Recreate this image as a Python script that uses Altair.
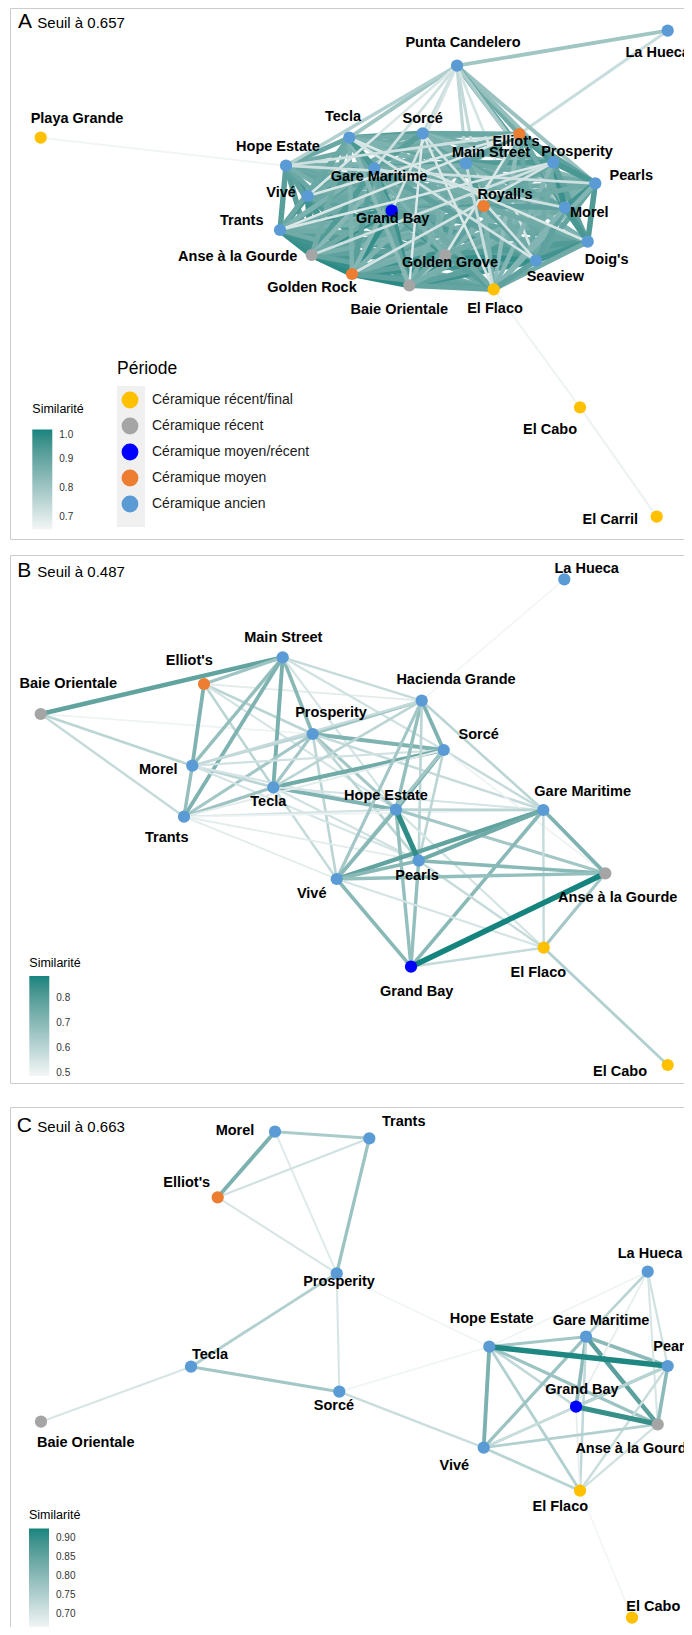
import altair as alt
import pandas as pd

FONT = "Liberation Sans"

# ---------------- legend categories ----------------
periods = ["Céramique récent/final", "Céramique récent", "Céramique moyen/récent",
           "Céramique moyen", "Céramique ancien"]
period_colors = ["#FFC000", "#A5A5A5", "#0000FF", "#ED7D31", "#5B9BD5"]

names = {
    "PC": "Punta Candelero", "LH": "La Hueca", "PG": "Playa Grande", "TE": "Tecla",
    "SO": "Sorcé", "EL": "Elliot's", "HE": "Hope Estate", "MS": "Main Street",
    "PR": "Prosperity", "GM": "Gare Maritime", "PE": "Pearls", "VI": "Vivé",
    "RO": "Royall's", "GB": "Grand Bay", "MO": "Morel", "TR": "Trants",
    "AG": "Anse à la Gourde", "GG": "Golden Grove", "DO": "Doig's", "GR": "Golden Rock",
    "SE": "Seaview", "BO": "Baie Orientale", "EF": "El Flaco", "EC": "El Cabo",
    "ER": "El Carril", "HG": "Hacienda Grande",
}
site_period = {
    "PG": 0, "EF": 0, "EC": 0, "ER": 0,
    "AG": 1, "BO": 1, "GG": 1,
    "GB": 2,
    "GR": 3, "RO": 3, "EL": 3,
}

# ---------------- panel A (seuil 0.657) ----------------
# site: (x, y, label x, label y)
layout_a = {
    "PC": (457, 65.7, 463, 43.3), "LH": (667.7, 30.7, 657.7, 53.3),
    "PG": (40.7, 137.7, 77, 119), "TE": (349.3, 137.7, 343, 117),
    "SO": (422.7, 133.3, 422.7, 119.3), "EL": (519.3, 134, 516, 141.7),
    "HE": (286, 165.7, 278, 146.7), "MS": (466, 163.3, 491, 153.3),
    "PR": (553.3, 162.3, 577, 151.7), "GM": (374.3, 168.3, 379, 176.7),
    "PE": (595.3, 183.3, 631.3, 176), "VI": (307.7, 196, 281, 193),
    "RO": (483.7, 206, 505, 195), "GB": (391.7, 210.7, 392.7, 219.3),
    "MO": (565, 207.7, 589.3, 213.3), "TR": (280, 230, 241.7, 220.7),
    "AG": (311.7, 255, 237.7, 256.7), "GG": (445.3, 255, 450, 263.3),
    "DO": (587.7, 241.7, 606.7, 260), "GR": (352, 274, 312, 288),
    "SE": (536, 260.7, 555.3, 277.3), "BO": (409.3, 285.3, 399.3, 310),
    "EF": (493.7, 289.3, 495, 309.3), "EC": (580, 407.3, 550, 430),
    "ER": (656.7, 516.7, 610.3, 520),
}
edges_a = [
    ("PG", "HE", 0.66), ("PC", "LH", 0.80), ("LH", "EL", 0.73),
    ("HE", "VI", 0.95), ("HE", "GM", 0.93), ("HE", "GB", 0.94), ("HE", "TR", 0.92),
    ("HE", "AG", 0.92), ("HE", "GR", 0.91), ("HE", "BO", 0.89), ("HE", "GG", 0.90),
    ("HE", "SE", 0.90), ("HE", "TE", 0.89), ("HE", "SO", 0.88), ("HE", "MS", 0.87),
    ("HE", "PR", 0.86), ("HE", "RO", 0.90), ("HE", "MO", 0.87), ("HE", "DO", 0.89),
    ("HE", "EF", 0.87),
    ("VI", "TR", 0.95), ("VI", "AG", 0.96), ("VI", "GB", 0.96), ("VI", "GR", 0.95),
    ("VI", "GM", 0.94), ("VI", "BO", 0.93), ("VI", "GG", 0.93), ("VI", "SE", 0.91),
    ("VI", "TE", 0.90), ("VI", "SO", 0.88), ("VI", "MS", 0.90), ("VI", "PR", 0.87),
    ("VI", "PE", 0.88), ("VI", "RO", 0.90), ("VI", "MO", 0.89), ("VI", "DO", 0.89),
    ("VI", "EF", 0.89),
    ("TR", "AG", 0.97), ("TR", "GB", 0.96), ("TR", "GR", 0.96), ("TR", "BO", 0.95),
    ("TR", "GG", 0.93), ("TR", "GM", 0.92), ("TR", "SE", 0.92), ("TR", "TE", 0.89),
    ("TR", "SO", 0.86), ("TR", "MS", 0.88), ("TR", "PE", 0.85), ("TR", "RO", 0.88),
    ("TR", "MO", 0.87), ("TR", "DO", 0.88), ("TR", "EF", 0.88),
    ("AG", "GR", 0.98), ("AG", "GB", 0.97), ("AG", "BO", 0.97), ("AG", "GG", 0.95),
    ("AG", "GM", 0.93), ("AG", "SE", 0.94), ("AG", "DO", 0.91), ("AG", "TE", 0.88),
    ("AG", "SO", 0.84), ("AG", "MS", 0.88), ("AG", "PE", 0.86), ("AG", "RO", 0.90),
    ("AG", "MO", 0.87), ("AG", "EF", 0.90),
    ("GR", "BO", 0.98), ("GR", "GB", 0.97), ("GR", "GG", 0.96), ("GR", "SE", 0.96),
    ("GR", "GM", 0.92), ("GR", "DO", 0.91), ("GR", "TE", 0.86), ("GR", "SO", 0.84),
    ("GR", "MS", 0.86), ("GR", "PE", 0.86), ("GR", "RO", 0.88), ("GR", "MO", 0.87),
    ("GR", "EF", 0.91),
    ("GB", "BO", 0.96), ("GB", "GM", 0.95), ("GB", "GG", 0.95), ("GB", "SE", 0.93),
    ("GB", "TE", 0.89), ("GB", "SO", 0.87), ("GB", "EL", 0.83), ("GB", "MS", 0.89),
    ("GB", "PR", 0.87), ("GB", "PE", 0.89), ("GB", "RO", 0.92), ("GB", "MO", 0.87),
    ("GB", "DO", 0.90), ("GB", "EF", 0.90),
    ("BO", "GG", 0.97), ("BO", "SE", 0.96), ("BO", "DO", 0.91), ("BO", "GM", 0.90),
    ("BO", "EF", 0.90), ("BO", "TE", 0.84), ("BO", "MS", 0.86), ("BO", "PR", 0.81),
    ("BO", "PE", 0.85), ("BO", "RO", 0.88), ("BO", "MO", 0.87),
    ("GG", "SE", 0.97), ("GG", "DO", 0.93), ("GG", "EF", 0.92), ("GG", "GM", 0.90),
    ("GG", "TE", 0.86), ("GG", "SO", 0.87), ("GG", "MS", 0.87), ("GG", "PR", 0.86),
    ("GG", "PE", 0.86), ("GG", "RO", 0.91), ("GG", "MO", 0.88),
    ("TE", "SO", 0.92), ("TE", "EL", 0.88), ("TE", "MS", 0.90), ("TE", "PR", 0.88),
    ("TE", "GM", 0.94), ("TE", "PE", 0.86), ("TE", "RO", 0.87), ("TE", "MO", 0.86),
    ("GM", "SO", 0.92), ("GM", "EL", 0.88), ("GM", "MS", 0.93), ("GM", "PR", 0.86),
    ("GM", "PE", 0.88), ("GM", "RO", 0.92), ("GM", "DO", 0.88), ("GM", "SE", 0.91),
    ("GM", "EF", 0.88),
    ("PC", "TE", 0.80), ("PC", "HE", 0.77), ("PC", "SO", 0.73), ("PC", "EL", 0.88),
    ("PC", "MS", 0.75), ("PC", "PR", 0.82), ("PC", "PE", 0.81), ("PC", "MO", 0.90),
    ("PC", "DO", 0.78), ("PC", "GM", 0.72), ("PC", "GB", 0.71), ("PC", "RO", 0.74),
    ("PC", "SE", 0.71), ("PC", "VI", 0.70),
    ("SO", "EL", 0.89), ("SO", "MS", 0.92), ("SO", "PR", 0.88), ("SO", "PE", 0.84),
    ("SO", "RO", 0.89), ("SO", "MO", 0.86), ("SO", "DO", 0.86),
    ("MS", "EL", 0.91), ("MS", "PR", 0.93), ("MS", "PE", 0.88), ("MS", "RO", 0.93),
    ("MS", "MO", 0.90), ("MS", "DO", 0.86), ("MS", "SE", 0.88),
    ("EL", "PR", 0.94), ("EL", "PE", 0.91), ("EL", "RO", 0.88), ("EL", "MO", 0.95),
    ("EL", "DO", 0.88), ("EL", "SE", 0.89), ("EL", "EF", 0.83),
    ("PR", "PE", 0.94), ("PR", "RO", 0.90), ("PR", "MO", 0.96), ("PR", "DO", 0.91),
    ("PR", "SE", 0.88), ("PR", "EF", 0.85),
    ("PE", "RO", 0.88), ("PE", "MO", 0.95), ("PE", "DO", 0.93), ("PE", "SE", 0.90),
    ("PE", "EF", 0.85),
    ("RO", "MO", 0.91), ("RO", "DO", 0.88), ("RO", "SE", 0.91), ("RO", "EF", 0.86),
    ("MO", "DO", 0.94), ("MO", "SE", 0.91), ("MO", "EF", 0.85),
    ("DO", "SE", 0.95), ("DO", "EF", 0.88), ("SE", "EF", 0.91),
    # weaker links crossing the core (pale streaks)
    ("TE", "DO", 0.70), ("SO", "SE", 0.71), ("HE", "PE", 0.72), ("VI", "EL", 0.70),
    ("GM", "MO", 0.72), ("TR", "PR", 0.70), ("BO", "SO", 0.69), ("GG", "EL", 0.70),
    ("GR", "PR", 0.71), ("AG", "PR", 0.72), ("TE", "SE", 0.71), ("SO", "EF", 0.70),
    ("HE", "EL", 0.72), ("MS", "EF", 0.73), ("TR", "EL", 0.70),
    ("EF", "EC", 0.665), ("EC", "ER", 0.668),
]

# ---------------- panel B (seuil 0.487) ----------------
layout_b = {
    "LH": (564.3, 579.3, 586.7, 569), "BO": (40.7, 714, 68.3, 684.3),
    "EL": (204, 684, 189.3, 661), "MS": (282.7, 657.3, 283.3, 638.3),
    "HG": (421.7, 700.7, 456, 680), "PR": (312.7, 734, 331, 713.3),
    "SO": (443.7, 750, 478.7, 735), "MO": (192.3, 765.7, 158.3, 770),
    "TE": (273.3, 787.3, 268.3, 801.7), "HE": (396, 809.6, 386, 795.5),
    "GM": (543.3, 810, 582.7, 792.3), "TR": (184, 816.7, 166.7, 838.3),
    "PE": (418.7, 860.7, 417, 875.7), "VI": (336.7, 879, 311.7, 894),
    "AG": (605.3, 873.3, 617.7, 897.7), "GB": (411, 966.7, 416.7, 991.7),
    "EF": (543.7, 947.7, 538.3, 973.3), "EC": (667.7, 1065, 620, 1071.7),
}
edges_b = [
    ("HG", "LH", 0.49), ("BO", "PR", 0.50), ("BO", "MO", 0.60), ("BO", "TR", 0.58),
    ("BO", "MS", 0.78),
    ("EL", "MS", 0.66), ("EL", "MO", 0.72), ("EL", "PR", 0.60), ("EL", "TE", 0.60),
    ("EL", "HG", 0.52), ("EL", "HE", 0.55),
    ("MS", "MO", 0.68), ("MS", "TE", 0.73), ("MS", "TR", 0.72), ("MS", "PR", 0.70),
    ("MS", "HG", 0.58), ("MS", "SO", 0.56), ("MS", "HE", 0.55),
    ("PR", "MO", 0.60), ("PR", "TE", 0.65), ("PR", "TR", 0.65), ("PR", "HG", 0.66),
    ("PR", "SO", 0.72), ("PR", "HE", 0.65), ("PR", "VI", 0.60), ("PR", "GM", 0.58),
    ("PR", "PE", 0.60),
    ("MO", "TE", 0.60), ("MO", "TR", 0.68), ("MO", "HG", 0.58), ("MO", "SO", 0.56),
    ("MO", "HE", 0.55), ("MO", "PE", 0.55),
    ("TE", "TR", 0.66), ("TE", "HE", 0.72), ("TE", "SO", 0.75), ("TE", "VI", 0.58),
    ("TE", "PE", 0.56), ("TE", "GM", 0.55), ("TE", "HG", 0.60),
    ("TR", "HE", 0.55), ("TR", "VI", 0.52), ("TR", "PE", 0.52), ("TR", "GM", 0.50),
    ("TR", "SO", 0.52),
    ("HG", "SO", 0.72), ("HG", "HE", 0.68), ("HG", "VI", 0.65), ("HG", "PE", 0.60),
    ("HG", "GM", 0.60),
    ("SO", "HE", 0.75), ("SO", "VI", 0.65), ("SO", "PE", 0.60), ("SO", "GM", 0.58),
    ("SO", "AG", 0.50),
    ("HE", "VI", 0.70), ("HE", "GM", 0.60), ("HE", "GB", 0.68), ("HE", "AG", 0.65),
    ("HE", "EF", 0.55),
    ("GM", "VI", 0.78), ("GM", "PE", 0.75), ("GM", "AG", 0.72), ("GM", "GB", 0.70),
    ("GM", "EF", 0.58),
    ("PE", "VI", 0.70), ("PE", "AG", 0.70), ("PE", "GB", 0.68), ("PE", "EF", 0.58),
    ("VI", "GB", 0.70), ("VI", "AG", 0.68), ("VI", "EF", 0.55),
    ("GB", "EF", 0.58), ("AG", "EF", 0.65), ("EF", "EC", 0.62),
    ("HE", "PE", 0.86), ("GB", "AG", 0.89),
]

# ---------------- panel C (seuil 0.663) ----------------
layout_c = {
    "MO": (275, 1131.7, 235, 1131), "TR": (369.3, 1138.3, 403.7, 1121.7),
    "EL": (217.7, 1197.3, 186.7, 1183.3), "PR": (336.7, 1273.3, 339, 1281.7),
    "LH": (647.7, 1271.7, 650, 1254), "HE": (489.3, 1346.7, 491.7, 1319),
    "GM": (586, 1336.7, 601, 1320.7), "PE": (667.7, 1366, 675, 1346.7),
    "TE": (191, 1366.7, 210, 1355), "SO": (339.3, 1391.7, 334, 1406),
    "BO": (41, 1421.7, 85.7, 1443.3), "GB": (576, 1406.7, 582, 1390),
    "AG": (657.7, 1424.3, 635, 1449.3), "VI": (483.7, 1447.7, 454.3, 1466),
    "EF": (580, 1490.7, 560.3, 1506.7), "EC": (632, 1617.7, 653.3, 1607.3),
}
edges_c = [
    ("MO", "TR", 0.76), ("MO", "EL", 0.82), ("MO", "PR", 0.69), ("EL", "TR", 0.71),
    ("EL", "PR", 0.70), ("TR", "PR", 0.78), ("PR", "TE", 0.75), ("PR", "SO", 0.70),
    ("PR", "HE", 0.665), ("TE", "SO", 0.77), ("TE", "BO", 0.70), ("SO", "VI", 0.72),
    ("SO", "HE", 0.67), ("HE", "GM", 0.77), ("HE", "LH", 0.67), ("HE", "GB", 0.73),
    ("HE", "AG", 0.78), ("HE", "VI", 0.82), ("HE", "EF", 0.75), ("GM", "LH", 0.74),
    ("GM", "PE", 0.80), ("GM", "AG", 0.86), ("GM", "GB", 0.80), ("GM", "VI", 0.78),
    ("GM", "EF", 0.73), ("LH", "PE", 0.71), ("LH", "AG", 0.70), ("LH", "GB", 0.68),
    ("PE", "GB", 0.77), ("PE", "AG", 0.80), ("PE", "VI", 0.74), ("PE", "EF", 0.72),
    ("GB", "VI", 0.72), ("GB", "EF", 0.68), ("AG", "VI", 0.75), ("AG", "EF", 0.71),
    ("VI", "EF", 0.74), ("EF", "EC", 0.665), ("HE", "PE", 0.92), ("GB", "AG", 0.90),
]

sim_low, sim_high = "#F3F6F6", "#15847E"

# ---------------- tables ----------------
def node_table(layout, panel):
    rows = []
    for k, (x, y, lx, ly) in layout.items():
        rows.append(dict(panel=panel, name=names[k], x=x, y=y, lx=lx, ly=ly,
                         period=periods[site_period.get(k, 4)]))
    return rows


def edge_table(layout, edges):
    rows = []
    for a, b, s in edges:
        rows.append(dict(x=layout[a][0], y=layout[a][1], x2=layout[b][0],
                         y2=layout[b][1], sim=s, width=s))
    return pd.DataFrame(rows)


nodes = pd.DataFrame(node_table(layout_a, "A") + node_table(layout_b, "B")
                     + node_table(layout_c, "C"))

XS = alt.Scale(domain=[8, 684], nice=False, zero=False)
YS = alt.Scale(domain=[8, 1627], nice=False, zero=False, reverse=True)


def X(f):
    return alt.X(f, type="quantitative", scale=XS, axis=None)


def Y(f):
    return alt.Y(f, type="quantitative", scale=YS, axis=None)


def edge_layer(df, dom, vals, fmt, lx, ly, tpad, widths):
    # width scale gets its own (slightly wider) domain so its legend is not merged
    wdom = [dom[0] - 0.0005, dom[1] + 0.0005]
    return alt.Chart(df).mark_rule().encode(
        x=X("x"), y=Y("y"), x2=alt.X2("x2"), y2=alt.Y2("y2"),
        stroke=alt.Stroke("sim:Q", scale=alt.Scale(domain=dom, range=[sim_low, sim_high]),
                          legend=alt.Legend(type="gradient", title="Similarité",
                                            orient="none", legendX=lx,
                                            legendY=ly, direction="vertical",
                                            gradientLength=100, gradientThickness=20,
                                            gradientStrokeWidth=0, values=vals, format=fmt,
                                            titlePadding=tpad, titleFontSize=12.5,
                                            titleFontWeight="normal", titleColor="#000000",
                                            titleFont=FONT, labelFont=FONT,
                                            labelFontSize=10, labelColor="#333333",
                                            labelOffset=7, padding=0)),
        strokeWidth=alt.StrokeWidth("width:Q", scale=alt.Scale(domain=wdom, range=widths),
                                    legend=None),
    )


ea = edge_layer(edge_table(layout_a, edges_a), [0.657, 1.0], [0.7, 0.8, 0.9, 1.0], ".1f",
                24.3, 395, 14, [2.0, 6.5])
eb = edge_layer(edge_table(layout_b, edges_b), [0.487, 0.89], [0.5, 0.6, 0.7, 0.8], ".1f",
                21.3, 949, 6.5, [1.5, 5.5])
ec = edge_layer(edge_table(layout_c, edges_c), [0.663, 0.926],
                [0.70, 0.75, 0.80, 0.85, 0.90], ".2f", 21, 1501, 7, [1.5, 5.5])

# panel frames (open on the right, C cut at the bottom)
frames = pd.DataFrame([
    dict(x=10.5, x2=700, y=8.5, y2=8.5), dict(x=10.5, x2=10.5, y=8.5, y2=539.5),
    dict(x=10.5, x2=700, y=539.5, y2=539.5),
    dict(x=10.5, x2=700, y=555.5, y2=555.5), dict(x=10.5, x2=10.5, y=555.5, y2=1083.5),
    dict(x=10.5, x2=700, y=1083.5, y2=1083.5),
    dict(x=10.5, x2=700, y=1107.5, y2=1107.5), dict(x=10.5, x2=10.5, y=1107.5, y2=1640),
])
frame_layer = alt.Chart(frames).mark_rule(color="#CCCCCC", strokeWidth=1).encode(
    x=X("x"), y=Y("y"), x2=alt.X2("x2"), y2=alt.Y2("y2"))

key_bg = alt.Chart(pd.DataFrame({"k": [0]})).mark_rect(color="#F0F0F0").encode(
    x=alt.value(109), x2=alt.value(137), y=alt.value(378), y2=alt.value(519))

node_layer = alt.Chart(nodes).mark_circle(size=150, opacity=1).encode(
    x=X("x"), y=Y("y"),
    color=alt.Color("period:N", scale=alt.Scale(domain=periods, range=period_colors),
                    legend=alt.Legend(title="Période", orient="none", legendX=109,
                                      legendY=352, symbolType="circle", symbolSize=283,
                                      symbolOffset=4.5, labelOffset=13.5, rowPadding=9,
                                      titleFontSize=17.5, titleFontWeight="normal",
                                      titleColor="#000000", titlePadding=14,
                                      titleFont=FONT, labelFont=FONT,
                                      labelFontSize=14, labelColor="#1A1A1A",
                                      symbolStrokeWidth=0, symbolOpacity=1, padding=0)),
)

label_layer = alt.Chart(nodes).mark_text(font=FONT, fontSize=14.5, fontWeight="bold",
                                         color="#000000", baseline="middle",
                                         align="center").encode(
    x=X("lx"), y=Y("ly"), text="name:N")

titles = pd.DataFrame({
    "letter": ["A", "B", "C"],
    "seuil": ["Seuil à 0.657", "Seuil à 0.487", "Seuil à 0.663"],
    "lx": [18, 17.3, 16.7],
    "sx": [37.3, 37.3, 37.3],
    "base": [28.3, 576.7, 1131.7],
})
letter_layer = alt.Chart(titles).mark_text(font=FONT, fontSize=21, align="left",
                                           baseline="alphabetic", color="#000000").encode(
    x=X("lx"), y=Y("base"), text="letter:N")
seuil_layer = alt.Chart(titles).mark_text(font=FONT, fontSize=15, align="left",
                                          baseline="alphabetic", color="#000000").encode(
    x=X("sx"), y=Y("base"), text="seuil:N")

chart = alt.layer(
    frame_layer, key_bg, ea, eb, ec, node_layer, label_layer, letter_layer, seuil_layer
).resolve_scale(
    stroke="independent", strokeWidth="independent"
).properties(
    width=676, height=1619, padding=0, background="white",
    autosize=alt.AutoSizeParams(type="none"),
).configure_view(stroke=None)

chart.save("out.html", embed_options={"renderer": "svg", "actions": False})
